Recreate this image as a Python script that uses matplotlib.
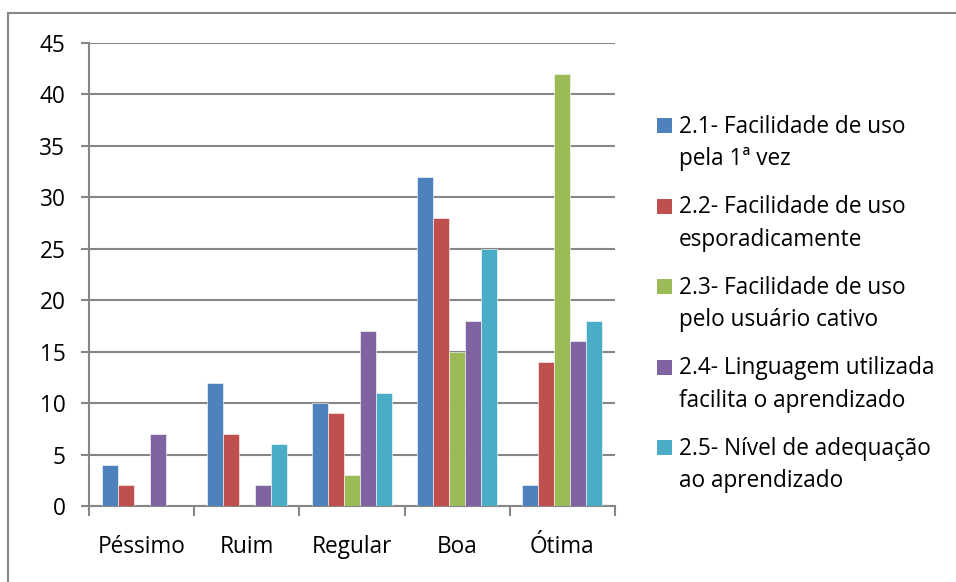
import matplotlib.pyplot as plt
import numpy as np
from matplotlib.patches import Rectangle

categories = ["Péssimo", "Ruim", "Regular", "Boa", "Ótima"]
series_labels = [
    "2.1- Facilidade de uso\npela 1ª vez",
    "2.2- Facilidade de uso\nesporadicamente",
    "2.3- Facilidade de uso\npelo usuário cativo",
    "2.4- Linguagem utilizada\nfacilita o aprendizado",
    "2.5- Nível de adequação\nao aprendizado",
]
s21 = [4, 12, 10, 32, 2]
s22 = [2, 7, 9, 28, 14]
s23 = [0, 0, 3, 15, 42]
s24 = [7, 2, 17, 18, 16]
s25 = [0, 6, 11, 25, 18]
series = [s21, s22, s23, s24, s25]
colors = ["#4F81BD", "#C0504D", "#9BBB59", "#8064A2", "#4BACC6"]

plt.rcParams['font.family'] = ['Open Sans', 'DejaVu Sans']
FS = 16.3
W, H = 956, 582
fig = plt.figure(figsize=(W / 100, H / 100), dpi=100)

# outer chart border (only left/top visible in the crop)
fig.patches.append(Rectangle((8 / W, -0.1), 1.2, 1 - 13 / H + 0.1, transform=fig.transFigure,
                             fill=False, edgecolor="#868686", linewidth=1.5))

ax = fig.add_axes([89 / W, 1 - 506 / H, (615 - 89) / W, (506 - 43) / H])
x = np.arange(len(categories))
bw = 0.152
for i, (vals, c) in enumerate(zip(series, colors)):
    ax.bar(x + (i - 2) * bw, vals, width=bw, color=c, edgecolor="white", linewidth=0.4, zorder=3)

ax.set_xlim(-0.5, len(categories) - 0.5)
ax.set_ylim(0, 45)
ax.set_yticks(range(0, 46, 5))
ax.set_xticks(np.arange(-0.5, len(categories), 1.0))
ax.set_xticklabels([])
ax.set_xticks(x, minor=True)
ax.set_xticklabels(categories, minor=True)
ax.tick_params(axis='x', which='minor', length=0, pad=21, labelsize=FS)
ax.tick_params(axis='x', which='major', length=7, width=1.5, color="#868686", direction='out')
ax.tick_params(axis='y', length=6, width=1.5, color="#868686", labelsize=FS, pad=11)
ax.grid(axis='y', color="#868686", linewidth=1.5, zorder=0)
for side in ['top', 'right']:
    ax.spines[side].set_visible(False)
for side in ['left', 'bottom']:
    ax.spines[side].set_color("#868686")
    ax.spines[side].set_linewidth(1.5)
ax.set_axisbelow(True)

# legend
for i, (lab, c) in enumerate(zip(series_labels, colors)):
    sq_top = 118 + i * 80.5
    fig.patches.append(Rectangle((657 / W, 1 - (sq_top + 15) / H), 15 / W, 15 / H,
                                 transform=fig.transFigure, facecolor=c, edgecolor='none'))
    fig.text(679 / W, 1 - (sq_top - 3) / H, lab, fontsize=FS, va='top', ha='left', linespacing=1.45)

fig.savefig("out.png", dpi=100)
